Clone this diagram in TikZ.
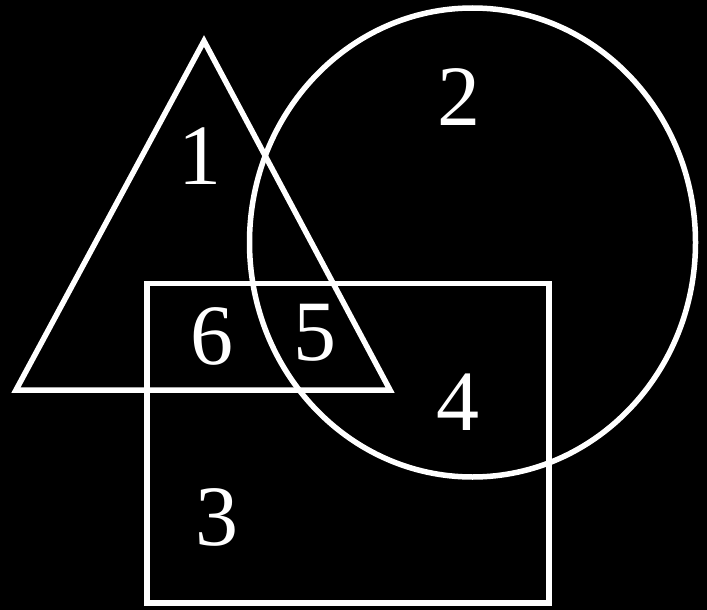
\documentclass[tikz,border=0pt]{standalone}
\usepackage{fontspec}
\setmainfont{Liberation Serif}
\usetikzlibrary{calc, positioning}

\begin{document}
\begin{tikzpicture}[x=1pt,y=-1pt,
  outline/.style={draw=white, line width=5.5pt},
  region/.style={text=white, inner sep=0pt, font=\fontsize{86}{86}\selectfont}]
\fill[black] (0,0) rectangle (707,610);
\useasboundingbox (0,0) rectangle (707,610);

\coordinate (T1) at (204,41);
\coordinate (T2) at (16,390);
\coordinate (T3) at (390,390);
\coordinate (C) at (472.5,242.5);

% triangle, ellipse, rectangle
\draw[outline, line join=miter] (T1) -- (T2) -- (T3) -- cycle;
\draw[outline] (C) ellipse[x radius=223, y radius=234.5];
\draw[outline] (147,283.5) rectangle (549,603);

\node[region] (r1) at (200,156) {1};
\node[region] (r2) at (459,97) {2};
\node[region] (r3) at (217,517) {3};
\node[region] (r4) at (458,402) {4};
\node[region] (r5) at (315,333) {5};
\node[region] (r6) at (212,336) {6};
\end{tikzpicture}
\end{document}
